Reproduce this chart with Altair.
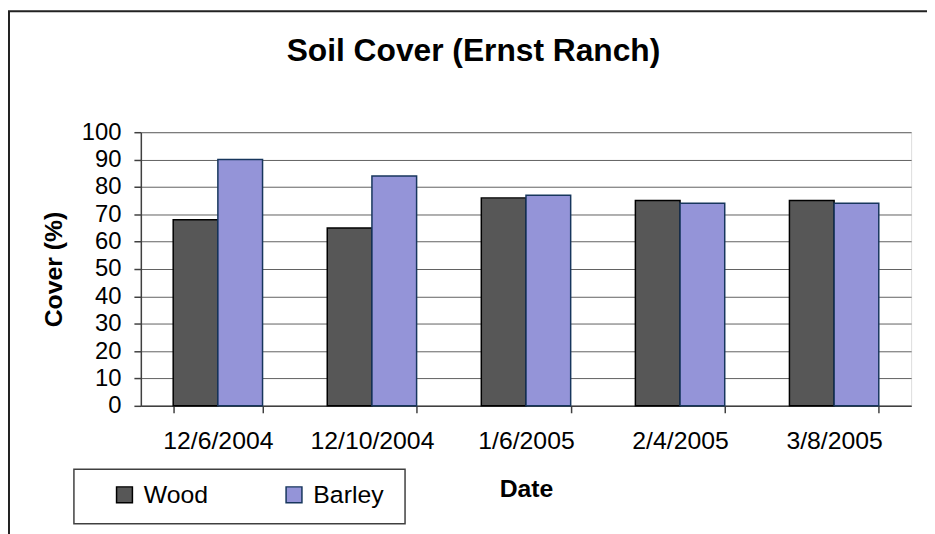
import altair as alt
import pandas as pd

title_text = "Soil Cover (Ernst Ranch)"
dates = ["12/6/2004", "12/10/2004", "1/6/2005", "2/4/2005", "3/8/2005"]
wood = [68, 65, 76, 75, 75]
barley = [90, 84, 77, 74, 74]
series = ["Wood", "Barley"]
y_ticks = [0, 10, 20, 30, 40, 50, 60, 70, 80, 90, 100]

rows = []
for d, w, b in zip(dates, wood, barley):
    rows.append({"Date": d, "Series": "Wood", "Cover": w})
    rows.append({"Date": d, "Series": "Barley", "Cover": b})
df = pd.DataFrame(rows)

FONT = "Liberation Sans"
W, H = 777, 276
fills = ["#575757", "#9494d8"]
strokes = ["#000000", "#17365d"]

legend = alt.Legend(
    title=None, orient="none", legendX=-29, legendY=353, direction="horizontal",
    labelFont=FONT, labelFontSize=25, labelColor="#000000", symbolType="square",
    symbolSize=256, symbolStrokeWidth=1.5, labelOffset=7, columnPadding=74,
    padding=0, symbolOpacity=1,
)

bars = alt.Chart(df).mark_bar(strokeWidth=1.5).encode(
    x=alt.X(
        "Date:N", sort=dates,
        scale=alt.Scale(paddingInner=0.42, paddingOuter=0.21),
        axis=alt.Axis(
            title="Date", tickBand="extent", labelAngle=0, grid=False,
            labelFont=FONT, labelFontSize=25, labelColor="#000000", labelPadding=16,
            tickSize=7, tickColor="#404040", tickWidth=1.5,
            domainColor="#404040", domainWidth=1.5,
            titleFont=FONT, titleFontSize=25, titleFontWeight="bold",
            titleColor="#000000", titlePadding=23,
        ),
    ),
    xOffset=alt.XOffset("Series:N", sort=series,
                        scale=alt.Scale(domain=series, paddingInner=0, paddingOuter=0)),
    y=alt.Y(
        "Cover:Q", scale=alt.Scale(domain=[0, 100], nice=False),
        axis=alt.Axis(
            values=y_ticks, title="Cover (%)", grid=True, gridColor="#606060", gridWidth=1,
            labelFont=FONT, labelFontSize=24, labelColor="#000000", labelPadding=13,
            tickSize=7, tickColor="#404040", tickWidth=1.5,
            domainColor="#404040", domainWidth=1.5,
            titleFont=FONT, titleFontSize=25, titleFontWeight="bold",
            titleColor="#000000", titlePadding=15,
        ),
    ),
    fill=alt.Fill("Series:N", sort=series,
                  scale=alt.Scale(domain=series, range=fills), legend=legend),
    stroke=alt.Stroke("Series:N", sort=series,
                      scale=alt.Scale(domain=series, range=strokes), legend=legend),
)

one = pd.DataFrame({"k": [0]})
title_df = pd.DataFrame({"t": [title_text]})

frame = alt.Chart(one).mark_rect(fillOpacity=0, stroke="#222222", strokeWidth=2).encode(
    x=alt.value(-133), x2=alt.value(W + 60), y=alt.value(-122), y2=alt.value(H + 200)
)

title = alt.Chart(title_df).mark_text(
    font=FONT, fontSize=32, fontWeight="bold", color="#000000",
    align="center", baseline="alphabetic",
).encode(text="t:N", x=alt.value(335.5), y=alt.value(-72))

legend_box = alt.Chart(one).mark_rect(fillOpacity=0, stroke="#404040", strokeWidth=1.5).encode(
    x=alt.value(-67.5), x2=alt.value(266.5), y=alt.value(340), y2=alt.value(395)
)

chart = alt.layer(frame, title, bars, legend_box).properties(
    width=W, height=H,
    autosize=alt.AutoSizeParams(type="none"),
    padding={"left": 134, "top": 123, "right": 16, "bottom": 127},
).configure_view(stroke="#808080", strokeWidth=1.5).configure(background="#ffffff")

chart.save("out.html", embed_options={"renderer": "svg", "actions": False})
